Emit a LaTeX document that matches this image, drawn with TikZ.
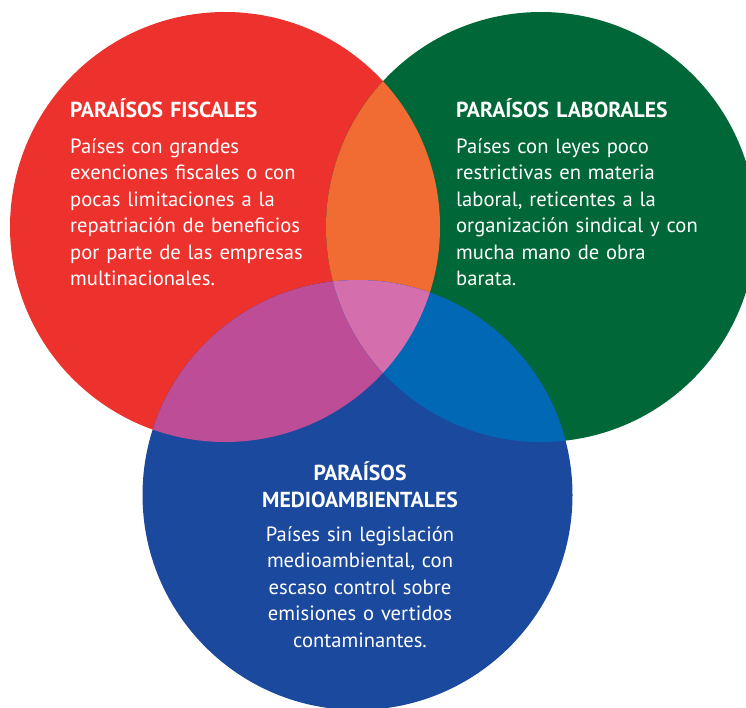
\documentclass[tikz,border=0pt]{standalone}
\usepackage{fontspec}
\setmainfont{PT Sans}
\definecolor{vred}{RGB}{237,50,46}
\definecolor{vorange}{RGB}{241,108,50}
\definecolor{vgreen}{RGB}{0,104,56}
\definecolor{vblue}{RGB}{27,73,157}
\definecolor{vpurple}{RGB}{190,77,152}
\definecolor{vbluegreen}{RGB}{0,104,180}
\definecolor{vtriple}{RGB}{212,110,172}
\tikzset{
  head/.style={text=white, inner sep=0pt, font=\fontsize{21.7}{27}\selectfont\bfseries},
  body/.style={text=white, inner sep=0pt, font=\fontsize{20.6}{26.5}\selectfont},
  disc/.style={radius=215pt}
}
\begin{document}
\begin{tikzpicture}[x=1pt,y=-1pt]
\useasboundingbox (0,0) rectangle (746,707);
\clip (0,0) rectangle (746,707);
\coordinate (cr) at (225,227);
\coordinate (cg) at (541,227);
\coordinate (cb) at (357.5,495);
% circles
\fill[vred] (cr) circle[disc];
\fill[vgreen] (cg) circle[disc];
\fill[vblue] (cb) circle[disc];
% pairwise overlaps
\begin{scope}
  \clip (cr) circle[disc];
  \fill[vorange] (cg) circle[disc];
  \fill[vpurple] (cb) circle[disc];
\end{scope}
\begin{scope}
  \clip (cg) circle[disc];
  \fill[vbluegreen] (cb) circle[disc];
\end{scope}
% triple overlap
\begin{scope}
  \clip (cr) circle[disc];
  \clip (cg) circle[disc];
  \fill[vtriple] (cb) circle[disc];
\end{scope}
% texts
\node[head, anchor=base west, text width=300pt, align=left] (rh) at (70,117) {PARAÍSOS FISCALES};
\node[body, anchor=base west, text width=300pt, align=left] (rb) at (70,153)
  {Países con grandes\\exenciones fiscales o con\\pocas limitaciones a la\\repatriación de beneficios\\por parte de las empresas\\multinacionales.};
\node[head, anchor=base west, text width=300pt, align=left] (gh) at (456,117) {PARAÍSOS LABORALES};
\node[body, anchor=base west, text width=300pt, align=left] (gb) at (456,153)
  {Países con leyes poco\\restrictivas en materia\\laboral, reticentes a la\\organización sindical y con\\mucha mano de obra\\barata.};
\node[head, anchor=base, text width=300pt, align=center] (bh) at (360,480) {PARAÍSOS\\MEDIOAMBIENTALES};
\node[body, anchor=base, text width=300pt, align=center] (bb) at (360,541)
  {Países sin legislación\\medioambiental, con\\escaso control sobre\\emisiones o vertidos\\contaminantes.};
\end{tikzpicture}
\end{document}
